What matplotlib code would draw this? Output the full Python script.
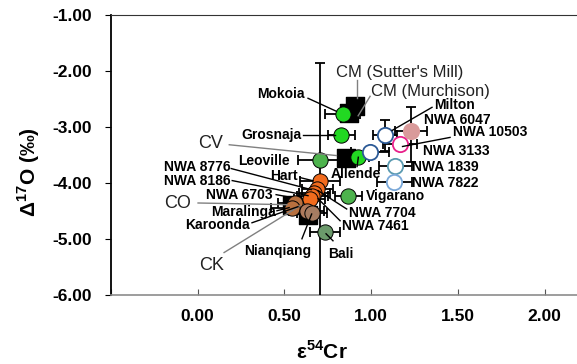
import numpy as np
import matplotlib
matplotlib.use('Agg')
import matplotlib.pyplot as plt

plt.rcParams['font.family'] = 'Liberation Sans'
plt.rcParams['mathtext.fontset'] = 'custom'
plt.rcParams['mathtext.rm'] = 'Liberation Sans'
plt.rcParams['mathtext.bf'] = 'Liberation Sans:bold'

# group means (black squares)
grp_names = ["CM (Sutter's Mill)", 'CM (Murchison)', 'CV', 'CO', 'CK']
grp_cr = [0.907, 0.873, 0.855, 0.544, 0.636]
grp_o17 = [-2.63, -2.756, -3.554, -4.387, -4.566]

# individual meteorites
names = ['Mokoia', 'Grosnaja', 'Allende', 'Leoville', 'Vigarano', 'Bali',
         'Hart', 'NWA 8776', 'NWA 8186', 'NWA 7704', 'NWA 7461',
         'NWA 6703', 'Maralinga', 'Karoonda', 'Nianqiang',
         'Milton', 'NWA 6047', 'NWA 10503', 'NWA 3133', 'NWA 1839', 'NWA 7822']
cr = [0.835, 0.829, 0.926, 0.707, 0.869, 0.734,
      0.705, 0.69, 0.672, 0.66, 0.645,
      0.561, 0.544, 0.629, 0.659,
      1.080, 1.23, 1.167, 0.994, 1.138, 1.134]
o17 = [-2.774, -3.15, -3.54, -3.586, -4.226, -4.883,
       -3.97, -4.10, -4.17, -4.24, -4.29,
       -4.351, -4.44, -4.495, -4.54,
       -3.15, -3.08, -3.30, -3.45, -3.69, -3.99]
cr_err = [0.10, 0.08, 0.06, 0.13, 0.08, 0.085,
          0.115, 0.09, 0.09, 0.09, 0.09,
          0.10, 0.12, 0.10, 0.087,
          0.07, 0.09, 0.10, 0.11, 0.095, 0.10]
o17_err_lo = [0, 0, 0, 2.6, 0, 0,
              0, 0, 0, 0, 0,
              0, 0, 0, 0,
              0.28, 0.54, 0, 0, 0, 0]
o17_err_hi = [0, 0, 0, 1.73, 0, 0,
              0, 0, 0, 0, 0,
              0, 0, 0, 0,
              0.28, 0.44, 0, 0, 0, 0]
face = ['#22d822', '#22d822', '#22d822', '#4db34d', '#4db34d', '#6b9a6b',
        '#f26b1d', '#f26b1d', '#f26b1d', '#f26b1d', '#f26b1d',
        '#b8703f', '#b8703f', '#b07a5c', '#a67c62',
        'white', '#d99a9a', 'white', 'white', 'white', 'white']
edge = ['black'] * 15 + ['#2c5a96', '#d99a9a', '#e8208a', '#2c5a96', '#5a9ab0', '#7aa8d8']

fig = plt.figure(figsize=(5.77, 3.64), dpi=100)
ax = fig.add_axes([111 / 577, 69 / 364, 466 / 577, 280 / 364])

ax.scatter(grp_cr, grp_o17, marker='s', s=150, color='black', zorder=2)
ax.errorbar(cr, o17, xerr=cr_err, yerr=[o17_err_lo, o17_err_hi], fmt='none',
            ecolor='black', elinewidth=1.3, capsize=3.5, capthick=1.3, zorder=3)
for i in range(len(names)):
    lw = 0.7 if edge[i] == 'black' else 1.3
    ax.plot(cr[i], o17[i], 'o', ms=11, mfc=face[i], mec=edge[i], mew=lw, zorder=4)

# labels: text, text position, alignment, leader line (x0, y0, x1, y1), line colour
labels = [
    ("CM (Sutter's Mill)", 0.80, -2.034, 'left', (0.919, -2.165, 0.919, -2.487), 'grey', 'grp'),
    ('CM (Murchison)', 0.998, -2.362, 'left', (0.994, -2.452, 0.925, -2.80), 'grey', 'grp'),
    ('CV', 0.074, -3.289, 'center', (0.182, -3.317, 0.80, -3.51), 'grey', 'grp'),
    ('CO', -0.114, -4.375, 'center', (0.002, -4.357, 0.515, -4.387), 'grey', 'grp'),
    ('CK', 0.077, -5.48, 'center', (0.152, -5.242, 0.59, -4.405), 'grey', 'grp'),
    ('Mokoia', 0.615, -2.416, 'right', (0.636, -2.487, 0.80, -2.72), 'black', 'm'),
    ('Grosnaja', 0.60, -3.15, 'right', (0.607, -3.15, 0.79, -3.15), 'black', 'm'),
    ('Leoville', 0.532, -3.599, 'right', None, 'black', 'm'),
    ('Hart', 0.578, -3.87, 'right', (0.59, -3.903, 0.665, -3.96), 'black', 'm'),
    ('Allende', 0.767, -3.837, 'left', (0.926, -3.54, 0.919, -3.706), 'black', 'm'),
    ('NWA 8776', 0.187, -3.706, 'right', (0.193, -3.742, 0.654, -4.118), 'black', 'm'),
    ('NWA 8186', 0.187, -3.957, 'right', (0.199, -3.957, 0.636, -4.226), 'black', 'm'),
    ('NWA 6703', 0.434, -4.208, 'right', (0.452, -4.208, 0.515, -4.244), 'black', 'm'),
    ('Maralinga', 0.45, -4.525, 'right', (0.457, -4.495, 0.527, -4.44), 'black', 'm'),
    ('Karoonda', 0.302, -4.746, 'right', (0.313, -4.71, 0.578, -4.423), 'black', 'm'),
    ('Nianqiang', 0.464, -5.211, 'center', (0.601, -4.996, 0.657, -4.554), 'black', 'm'),
    ('NWA 7704', 0.874, -4.536, 'left', (0.859, -4.464, 0.694, -4.136), 'black', 'm'),
    ('NWA 7461', 0.83, -4.776, 'left', (0.821, -4.674, 0.694, -4.28), 'black', 'm'),
    ('Vigarano', 0.971, -4.226, 'left', None, 'black', 'm'),
    ('Bali', 0.753, -5.27, 'left', (0.78, -5.032, 0.74, -4.907), 'black', 'm'),
    ('Milton', 1.363, -2.60, 'left', (1.351, -2.649, 1.121, -3.061), 'black', 'm'),
    ('NWA 6047', 1.305, -2.882, 'left', None, 'black', 'm'),
    ('NWA 10503', 1.471, -3.097, 'left', (1.455, -3.186, 1.181, -3.348), 'black', 'm'),
    ('NWA 3133', 1.301, -3.437, 'left', None, 'black', 'm'),
    ('NWA 1839', 1.234, -3.719, 'left', None, 'black', 'm'),
    ('NWA 7822', 1.234, -4.005, 'left', None, 'black', 'm'),
]
for txt, tx, ty, ha, ln, lc, kind in labels:
    if kind == 'grp':
        size = 12 if txt.startswith('CM') else 13
        ax.text(tx, ty, txt, ha=ha, va='center', fontsize=size, color='#222222', zorder=6)
    else:
        ax.text(tx, ty, txt, ha=ha, va='center', fontsize=10, fontweight='bold', zorder=6)
    if ln is not None:
        ax.plot([ln[0], ln[2]], [ln[1], ln[3]], color=lc, lw=1.0, zorder=5)

ax.set_xlim(-0.5, 2.187)
ax.set_ylim(-6, -1)
ax.set_yticks(np.arange(-6, -0.5, 1))
ax.set_yticklabels(['%.2f' % v for v in np.arange(-6, -0.5, 1)], fontweight='bold', fontsize=12.5)
ax.set_xticks([-0.5, 0, 0.5, 1, 1.5, 2])
ax.set_xticklabels(['', '0.00', '0.50', '1.00', '1.50', '2.00'], fontweight='bold', fontsize=12.5)
ax.tick_params(axis='y', direction='out', length=4, pad=10)
ax.tick_params(axis='x', direction='in', length=4, pad=10, color='#555555')

ax.spines['right'].set_visible(False)
ax.spines['left'].set_linewidth(1.3)
ax.spines['bottom'].set_color('#8c8c8c')
ax.spines['bottom'].set_linewidth(1.2)
ax.spines['top'].set_color('#333333')

ax.set_xlabel(r'ε$^{\mathbf{54}}$Cr', fontsize=15, fontweight='bold')
ax.set_ylabel(r'Δ$^{\mathbf{17}}$O (‰)', fontsize=15, fontweight='bold', va='center')
ax.xaxis.set_label_coords(0.452, -0.16)
ax.yaxis.set_label_coords(-0.176, 0.44)

fig.savefig('out.png', dpi=100)
